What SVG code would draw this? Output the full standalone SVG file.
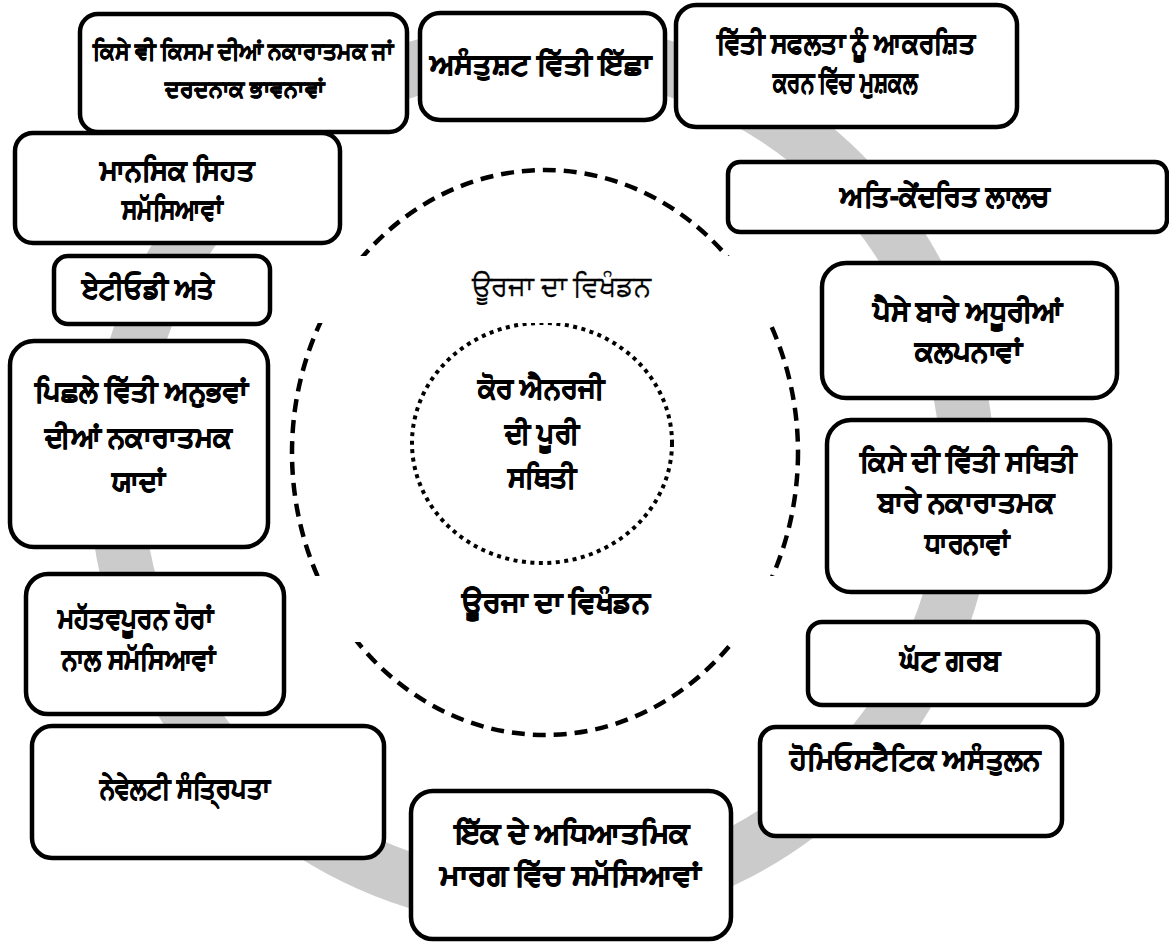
<svg xmlns="http://www.w3.org/2000/svg" width="1169" height="942" viewBox="0 0 1169 942">
<style>
.box{fill:#fff;stroke:#000;stroke-width:4.5}
.t{font-family:"Noto Sans","DejaVu Sans",sans-serif;font-weight:bold;font-size:29px;text-anchor:middle;fill:#000;stroke:#000;stroke-width:0.9}
.s{font-size:24px;stroke-width:0.7}
.n{font-weight:normal;stroke-width:0.35}
</style>
<defs>
<clipPath id="bands">
<rect x="0" y="0" width="1169" height="256"/>
<rect x="0" y="323" width="1169" height="253"/>
<rect x="0" y="642" width="1169" height="300"/>
</clipPath>
</defs>
<rect width="1169" height="942" fill="#fff"/>
<g id="connectors">
<circle cx="542" cy="475" r="426" fill="none" stroke="#cbcbcb" stroke-width="54"/>
</g>
<g id="core" clip-path="url(#bands)">
<ellipse cx="545" cy="452.5" rx="253" ry="282.5" fill="none" stroke="#000" stroke-width="4.5" stroke-dasharray="13 8"/>
<ellipse cx="542" cy="443" rx="130" ry="120" fill="none" stroke="#000" stroke-width="4" stroke-dasharray="4 4.5"/>
</g>
<g id="center-label">
<text class="t" x="541" y="398" textLength="127" lengthAdjust="spacingAndGlyphs">ਕੋਰ ਐਨਰਜੀ</text>
<text class="t" x="542" y="443" textLength="75" lengthAdjust="spacingAndGlyphs">ਦੀ ਪੂਰੀ</text>
<text class="t" x="542" y="487" textLength="69" lengthAdjust="spacingAndGlyphs">ਸਥਿਤੀ</text>
</g>
<g id="label-top"><text class="t n" x="561" y="296" textLength="179" lengthAdjust="spacingAndGlyphs">ਊਰਜਾ ਦਾ ਵਿਖੰਡਨ</text></g>
<g id="label-bottom"><text class="t" x="556" y="612" textLength="188" lengthAdjust="spacingAndGlyphs">ਊਰਜਾ ਦਾ ਵਿਖੰਡਨ</text></g>
<g id="n1"><rect class="box" x="80" y="14" width="327" height="118" rx="18"/>
<text class="t s" x="243" y="59" textLength="300" lengthAdjust="spacingAndGlyphs">ਕਿਸੇ ਵੀ ਕਿਸਮ ਦੀਆਂ ਨਕਾਰਾਤਮਕ ਜਾਂ</text>
<text class="t s" x="245" y="97" textLength="160" lengthAdjust="spacingAndGlyphs">ਦਰਦਨਾਕ ਭਾਵਨਾਵਾਂ</text></g>
<g id="n2"><rect class="box" x="15" y="133" width="325" height="110" rx="18"/>
<text class="t" x="177" y="180" textLength="155" lengthAdjust="spacingAndGlyphs">ਮਾਨਸਿਕ ਸਿਹਤ</text>
<text class="t" x="172" y="219" textLength="100" lengthAdjust="spacingAndGlyphs">ਸਮੱਸਿਆਵਾਂ</text></g>
<g id="n3"><rect class="box" x="54" y="256" width="216" height="68" rx="14"/>
<text class="t" x="148" y="298" textLength="133" lengthAdjust="spacingAndGlyphs">ਏਟੀਓਡੀ ਅਤੇ</text></g>
<g id="n4"><rect class="box" x="10" y="341" width="258" height="206" rx="24"/>
<text class="t" x="141" y="401" textLength="213" lengthAdjust="spacingAndGlyphs">ਪਿਛਲੇ ਵਿੱਤੀ ਅਨੁਭਵਾਂ</text>
<text class="t" x="138" y="447" textLength="187" lengthAdjust="spacingAndGlyphs">ਦੀਆਂ ਨਕਾਰਾਤਮਕ</text>
<text class="t" x="138" y="491" textLength="53" lengthAdjust="spacingAndGlyphs">ਯਾਦਾਂ</text></g>
<g id="n5"><rect class="box" x="26" y="574" width="258" height="140" rx="22"/>
<text class="t" x="135" y="628" textLength="155" lengthAdjust="spacingAndGlyphs">ਮਹੱਤਵਪੂਰਨ ਹੋਰਾਂ</text>
<text class="t" x="138" y="669" textLength="153" lengthAdjust="spacingAndGlyphs">ਨਾਲ ਸਮੱਸਿਆਵਾਂ</text></g>
<g id="n6"><rect class="box" x="32" y="726" width="352" height="132" rx="20"/>
<text class="t" x="185" y="798" textLength="170" lengthAdjust="spacingAndGlyphs">ਨੇਵੇਲਟੀ ਸੰਤ੍ਰਿਪਤਾ</text></g>
<g id="n7"><rect class="box" x="411" y="791" width="320" height="148" rx="22"/>
<text class="t" x="572" y="843" textLength="235" lengthAdjust="spacingAndGlyphs">ਇੱਕ ਦੇ ਅਧਿਆਤਮਿਕ</text>
<text class="t" x="570" y="885" textLength="260" lengthAdjust="spacingAndGlyphs">ਮਾਰਗ ਵਿੱਚ ਸਮੱਸਿਆਵਾਂ</text></g>
<g id="n8"><rect class="box" x="760" y="727" width="302" height="109" rx="16"/>
<text class="t" x="915" y="769" textLength="250" lengthAdjust="spacingAndGlyphs">ਹੋਮਿਓਸਟੈਟਿਕ ਅਸੰਤੁਲਨ</text></g>
<g id="n9"><rect class="box" x="808" y="622" width="290" height="83" rx="14"/>
<text class="t" x="950" y="670" textLength="100" lengthAdjust="spacingAndGlyphs">ਘੱਟ ਗਰਬ</text></g>
<g id="n10"><rect class="box" x="827" y="420" width="283" height="172" rx="24"/>
<text class="t" x="968" y="471" textLength="217" lengthAdjust="spacingAndGlyphs">ਕਿਸੇ ਦੀ ਵਿੱਤੀ ਸਥਿਤੀ</text>
<text class="t" x="966" y="512" textLength="177" lengthAdjust="spacingAndGlyphs">ਬਾਰੇ ਨਕਾਰਾਤਮਕ</text>
<text class="t" x="967" y="553" textLength="85" lengthAdjust="spacingAndGlyphs">ਧਾਰਨਾਵਾਂ</text></g>
<g id="n11"><rect class="box" x="822" y="263" width="295" height="135" rx="24"/>
<text class="t" x="968" y="321" textLength="190" lengthAdjust="spacingAndGlyphs">ਪੈਸੇ ਬਾਰੇ ਅਧੂਰੀਆਂ</text>
<text class="t" x="968" y="361" textLength="107" lengthAdjust="spacingAndGlyphs">ਕਲਪਨਾਵਾਂ</text></g>
<g id="n12"><rect class="box" x="728" y="162" width="439" height="70" rx="12"/>
<text class="t" x="945" y="206" textLength="210" lengthAdjust="spacingAndGlyphs">ਅਤਿ-ਕੇਂਦਰਿਤ ਲਾਲਚ</text></g>
<g id="n13"><rect class="box" x="676" y="5" width="341" height="122" rx="20"/>
<text class="t" x="846" y="53" textLength="258" lengthAdjust="spacingAndGlyphs">ਵਿੱਤੀ ਸਫਲਤਾ ਨੂੰ ਆਕਰਸ਼ਿਤ</text>
<text class="t" x="845" y="92" textLength="145" lengthAdjust="spacingAndGlyphs">ਕਰਨ ਵਿੱਚ ਮੁਸ਼ਕਲ</text></g>
<g id="n14"><rect class="box" x="420" y="13" width="245" height="107" rx="20"/>
<text class="t" x="540" y="74" textLength="221" lengthAdjust="spacingAndGlyphs">ਅਸੰਤੁਸ਼ਟ ਵਿੱਤੀ ਇੱਛਾ</text></g>
</svg>
